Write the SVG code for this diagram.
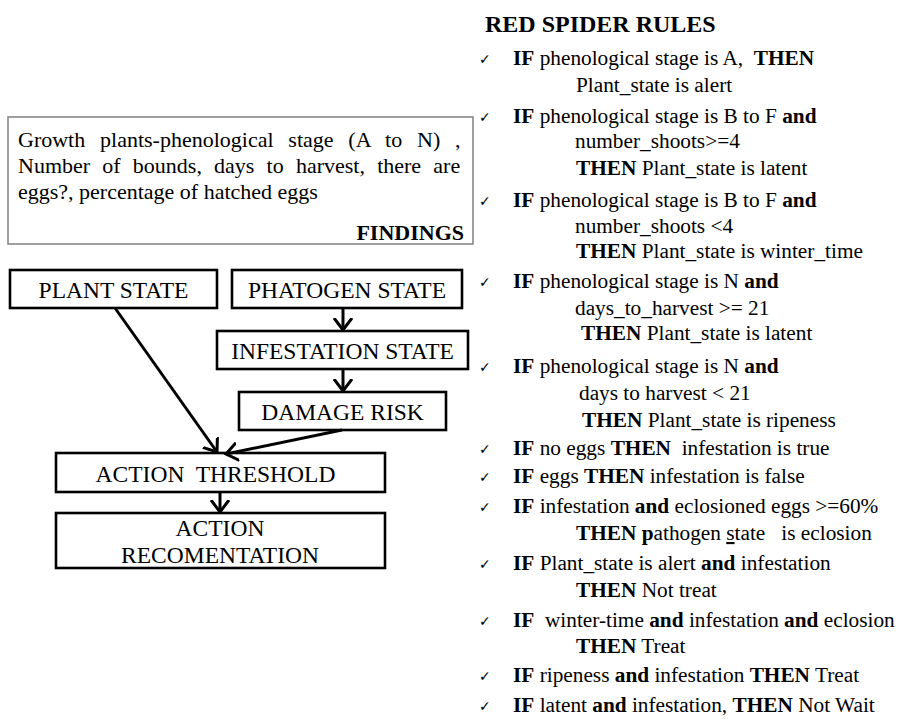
<svg xmlns="http://www.w3.org/2000/svg" width="904" height="722" viewBox="0 0 904 722">
  <style>
    text { font-family: "Liberation Serif", "Times New Roman", Tinos, "DejaVu Serif", serif; fill: #000; }
    .node rect { fill: #fff; stroke: #000; stroke-width: 2.6; }
    .node text { font-size: 23.5px; text-anchor: middle; }
    .find { font-size: 22px; }
    .rule { font-size: 21.3px; }
    .title { font-size: 24px; font-weight: bold; }
    .chk { font-family: "DejaVu Sans", sans-serif; font-size: 14px; }
    .b { font-weight: bold; }
    .conn line { stroke: #000; stroke-width: 3; marker-end: url(#arrow); }
  </style>
  <defs>
    <!-- open chevron arrowhead -->
    <marker id="arrow" viewBox="0 0 14 20" refX="12" refY="10" markerWidth="14" markerHeight="20" orient="auto" markerUnits="userSpaceOnUse">
      <path d="M0,1 L12,10 L0,19" fill="none" stroke="#000" stroke-width="3"/>
    </marker>
  </defs>
  <rect width="904" height="722" fill="#fff"/>

  <!-- findings panel -->
  <g id="findings">
    <rect x="8" y="117" width="465" height="127" fill="#fff" stroke="#808080" stroke-width="1.5"/>
    <text class="find" x="18" y="147" word-spacing="9.3">Growth plants-phenological stage (A to N) ,</text>
    <text class="find" x="18" y="173" word-spacing="6.7">Number of bounds, days to harvest, there are</text>
    <text class="find" x="18" y="199">eggs?, percentage of hatched eggs</text>
    <text class="find b" x="464" y="240" text-anchor="end">FINDINGS</text>
  </g>

  <!-- state nodes -->
  <g id="plant-state" class="node">
    <rect x="10" y="270" width="207" height="38"/>
    <text x="113.5" y="298">PLANT STATE</text>
  </g>
  <g id="phatogen-state" class="node">
    <rect x="232" y="270" width="230" height="38"/>
    <text x="347" y="298">PHATOGEN STATE</text>
  </g>
  <g id="infestation-state" class="node">
    <rect x="217" y="331" width="251" height="38"/>
    <text x="342.5" y="359">INFESTATION STATE</text>
  </g>
  <g id="damage-risk" class="node">
    <rect x="239" y="392" width="207" height="38"/>
    <text x="342.5" y="420">DAMAGE RISK</text>
  </g>
  <g id="action-threshold" class="node">
    <rect x="56" y="453" width="329" height="39"/>
    <text x="215.5" y="482" xml:space="preserve">ACTION  THRESHOLD</text>
  </g>
  <g id="action-recomentation" class="node">
    <rect x="56" y="513" width="329" height="55"/>
    <text x="220" y="536">ACTION</text>
    <text x="220" y="563">RECOMENTATION</text>
  </g>

  <!-- connectors -->
  <g id="connectors" class="conn">
    <line x1="343" y1="308" x2="343" y2="330"/>
    <line x1="343" y1="369" x2="343" y2="391"/>
    <line x1="115" y1="308" x2="217" y2="452"/>
    <line x1="342" y1="430" x2="226" y2="454"/>
    <line x1="220" y1="492" x2="220" y2="512"/>
  </g>

  <!-- rule list -->
  <g id="rules">
    <text class="title" x="485" y="32">RED SPIDER RULES</text>

    <text class="chk" x="479" y="64">✓</text>
    <text class="rule" x="513" y="65" xml:space="preserve"><tspan class="b">IF</tspan> phenological stage is A,  <tspan class="b">THEN</tspan></text>
    <text class="rule" x="576" y="92">Plant_state is alert</text>

    <text class="chk" x="479" y="122">✓</text>
    <text class="rule" x="513" y="123"><tspan class="b">IF</tspan> phenological stage is B to F <tspan class="b">and</tspan></text>
    <text class="rule" x="575" y="148">number_shoots&gt;=4</text>
    <text class="rule" x="576" y="175"><tspan class="b">THEN</tspan> Plant_state is latent</text>

    <text class="chk" x="479" y="206">✓</text>
    <text class="rule" x="513" y="207"><tspan class="b">IF</tspan> phenological stage is B to F <tspan class="b">and</tspan></text>
    <text class="rule" x="575" y="233">number_shoots &lt;4</text>
    <text class="rule" x="576" y="258"><tspan class="b">THEN</tspan> Plant_state is winter_time</text>

    <text class="chk" x="479" y="287">✓</text>
    <text class="rule" x="513" y="288"><tspan class="b">IF</tspan> phenological stage is N <tspan class="b">and</tspan></text>
    <text class="rule" x="575" y="315">days_to_harvest &gt;= 21</text>
    <text class="rule" x="581" y="340"><tspan class="b">THEN</tspan> Plant_state is latent</text>

    <text class="chk" x="479" y="372">✓</text>
    <text class="rule" x="513" y="373"><tspan class="b">IF</tspan> phenological stage is N <tspan class="b">and</tspan></text>
    <text class="rule" x="579" y="400">days to harvest &lt; 21</text>
    <text class="rule" x="582" y="427"><tspan class="b">THEN</tspan> Plant_state is ripeness</text>

    <text class="chk" x="479" y="454">✓</text>
    <text class="rule" x="513" y="455" xml:space="preserve"><tspan class="b">IF</tspan> no eggs <tspan class="b">THEN</tspan>  infestation is true</text>

    <text class="chk" x="479" y="482">✓</text>
    <text class="rule" x="513" y="483"><tspan class="b">IF</tspan> eggs <tspan class="b">THEN</tspan> infestation is false</text>

    <text class="chk" x="479" y="512">✓</text>
    <text class="rule" x="513" y="513"><tspan class="b">IF</tspan> infestation <tspan class="b">and</tspan> eclosioned eggs &gt;=60%</text>
    <text class="rule" x="576" y="540" xml:space="preserve"><tspan class="b">THEN p</tspan>athogen <tspan text-decoration="underline">s</tspan>tate   is eclosion</text>

    <text class="chk" x="479" y="569">✓</text>
    <text class="rule" x="513" y="570"><tspan class="b">IF</tspan> Plant_state is alert <tspan class="b">and</tspan> infestation</text>
    <text class="rule" x="576" y="597"><tspan class="b">THEN</tspan> Not treat</text>

    <text class="chk" x="479" y="626">✓</text>
    <text class="rule" x="513" y="627" xml:space="preserve"><tspan class="b">IF</tspan>  winter-time <tspan class="b">and</tspan> infestation <tspan class="b">and</tspan> eclosion</text>
    <text class="rule" x="576" y="653"><tspan class="b">THEN</tspan> Treat</text>

    <text class="chk" x="479" y="681">✓</text>
    <text class="rule" x="513" y="682"><tspan class="b">IF</tspan> ripeness <tspan class="b">and</tspan> infestation <tspan class="b">THEN</tspan> Treat</text>

    <text class="chk" x="479" y="711">✓</text>
    <text class="rule" x="513" y="712"><tspan class="b">IF</tspan> latent <tspan class="b">and</tspan> infestation, <tspan class="b">THEN</tspan> Not Wait</text>
  </g>
</svg>
